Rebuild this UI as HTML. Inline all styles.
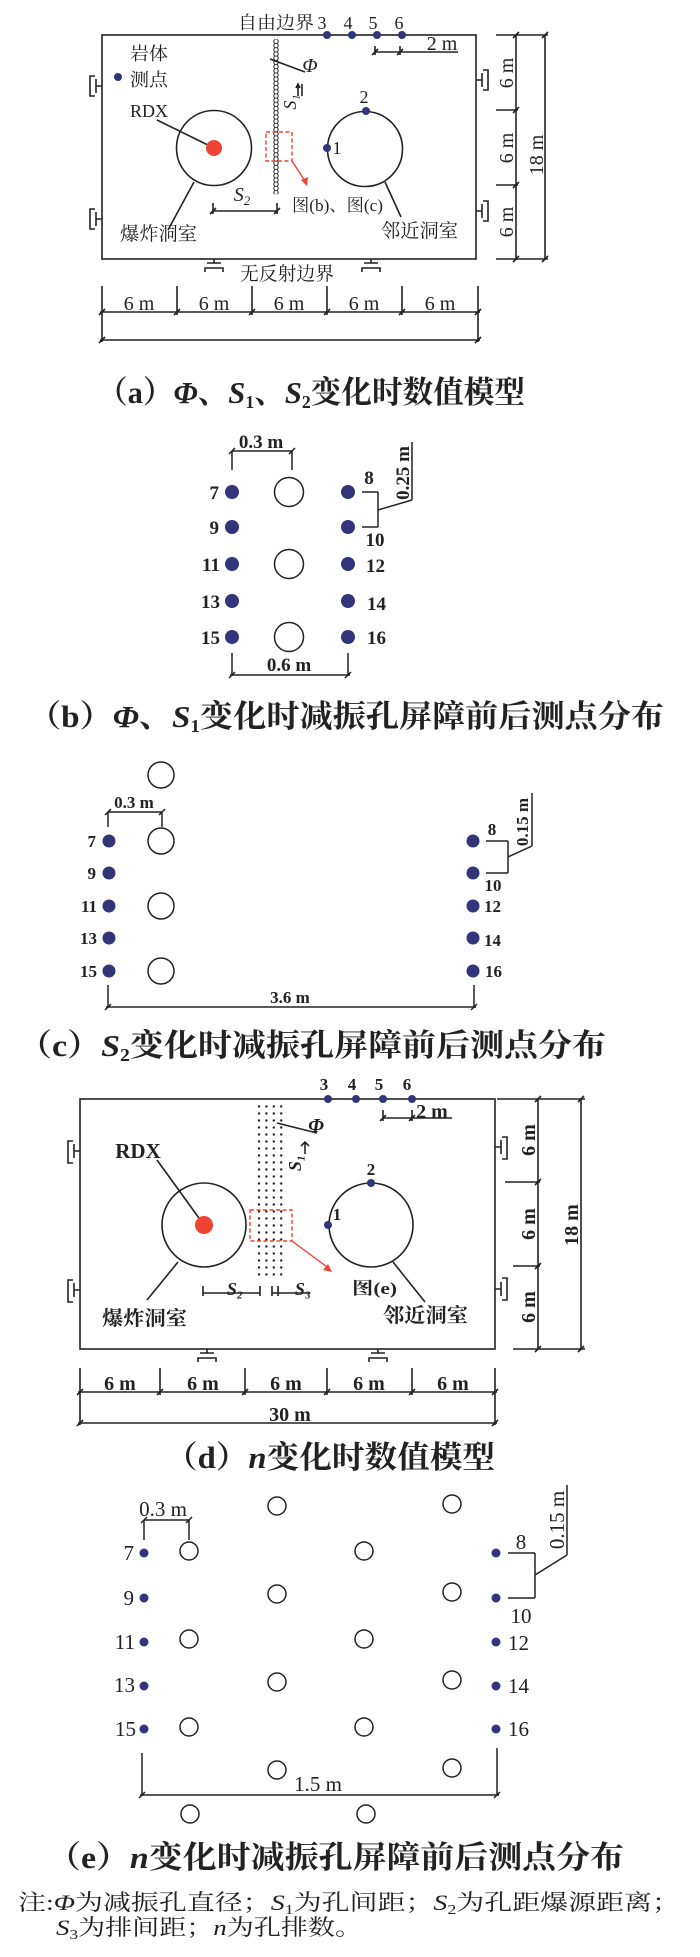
<!DOCTYPE html>
<html><head><meta charset="utf-8"><style>
html,body{margin:0;padding:0;background:#fff;}
svg{display:block;}
text{font-family:"Liberation Serif","Noto Serif CJK SC",serif;fill:#222;}
.cj{font-family:"Liberation Serif","Noto Serif CJK SC",serif;font-weight:bold;}
.b{font-weight:bold;}
</style></head><body>
<svg width="700" height="1957" viewBox="0 0 700 1957" xmlns="http://www.w3.org/2000/svg">
<defs>
<pattern id="chain" x="272" y="39.3" width="8" height="4.2" patternUnits="userSpaceOnUse">
<circle cx="4" cy="2.1" r="2.2" fill="none" stroke="#222" stroke-width="1"/>
</pattern>
<pattern id="dots" x="256" y="1103" width="7.4" height="7" patternUnits="userSpaceOnUse">
<circle cx="3" cy="3.5" r="1.2" fill="#222"/>
</pattern>
</defs>
<g stroke="#222" stroke-width="1.6" fill="none">
<rect x="102" y="35" width="374" height="224"/>
<path d="M102 86 H96 M96 79 V93 M95 76 H90 V96 H95"/>
<path d="M102 219 H96 M96 212 V226 M95 209 H90 V229 H95"/>
<path d="M476 80 H482 M482 73 V87 M483 70 H488 V90 H483"/>
<path d="M476 211 H482 M482 204 V218 M483 201 H488 V221 H483"/>
<path d="M214 259 V263 M207 263 H221 M205 272 V268 H223 V272"/>
<path d="M371 259 V263 M364 263 H378 M362 272 V268 H380 V272"/>
<path d="M496 35 H548 M496 110 H518 M496 185 H518 M496 259 H548 M516 35 V259 M545 35 V259"/>
<path d="M513 38 L519 32 M513 113 L519 107 M513 188 L519 182 M513 262 L519 256 M542 38 L548 32 M542 262 L548 256"/>
<path d="M102 286 V342 M177 286 V315 M252 286 V315 M327 286 V315 M402 286 V315 M478 286 V342 M100 312 H480 M100 340 H480"/>
<path d="M99 315 L105 309 M174 315 L180 309 M249 315 L255 309 M324 315 L330 309 M399 315 L405 309 M475 315 L481 309 M99 343 L105 337 M475 343 L481 337"/>
<path d="M375 52 H458 M375 46 V55 M400 46 V55 M372 55 L378 49 M397 55 L403 49"/>
<circle cx="214" cy="148" r="37.5"/>
<circle cx="365" cy="149" r="37.5"/>
<path d="M157 120 L214 148"/>
<path d="M194 182 L168 230 M385 182 L401 217"/>
<rect x="272" y="39.3" width="8" height="155" fill="url(#chain)" stroke="none"/>
<path d="M270 59 L305 72"/>
<path d="M298 84 V96 M302 84 V96 M296 88 L298 84 L300 88"/>
<path d="M213 211 H277 M213 203 V214 M277 203 V214 M210 214 L216 208 M274 214 L280 208"/>
</g>
<rect x="266" y="132" width="26" height="29" fill="none" stroke="#e43" stroke-width="1.4" stroke-dasharray="4,2.5"/>
<path d="M292 161 L305 181" stroke="#e43" stroke-width="1.4"/>
<path d="M301 180 L307 186 L308 177 Z" fill="#e43"/>
<circle cx="214" cy="148" r="8" fill="#e43"/>
<g fill="#33357a">
<circle cx="327" cy="35" r="4"/><circle cx="352" cy="35" r="4"/><circle cx="377" cy="35" r="4"/><circle cx="402" cy="35" r="4"/>
<circle cx="118" cy="77" r="4"/><circle cx="366" cy="111" r="4"/><circle cx="327" cy="148" r="4"/>
</g>
<g font-size="18">
<text x="238" y="29" textLength="76" lengthAdjust="spacingAndGlyphs">自由边界</text>
<text x="322" y="29" text-anchor="middle">3</text><text x="348" y="29" text-anchor="middle">4</text><text x="373" y="29" text-anchor="middle">5</text><text x="399" y="29" text-anchor="middle">6</text>
<text x="442" y="50" font-size="20" text-anchor="middle">2 m</text>
<text x="130" y="60" textLength="38" lengthAdjust="spacingAndGlyphs">岩体</text>
<text x="130" y="86" textLength="38" lengthAdjust="spacingAndGlyphs">测点</text>
<text x="130" y="117" textLength="38" lengthAdjust="spacingAndGlyphs">RDX</text>
<text x="364" y="103" text-anchor="middle">2</text>
<text x="337" y="154" text-anchor="middle">1</text>
<text x="310" y="72" font-style="italic" font-size="20" text-anchor="middle">Φ</text>
<text transform="translate(296,102) rotate(-90)" font-style="italic" font-size="18" text-anchor="middle">S₁</text>
<text x="242" y="201" font-style="italic" font-size="20" text-anchor="middle">S<tspan font-size="13" dy="4">2</tspan></text>
<text x="292" y="211" textLength="91" lengthAdjust="spacingAndGlyphs" font-size="17">图(b)、图(c)</text>
<text x="120" y="240" textLength="77" lengthAdjust="spacingAndGlyphs" font-size="19">爆炸洞室</text>
<text x="381" y="237" textLength="77" lengthAdjust="spacingAndGlyphs" font-size="19">邻近洞室</text>
<text x="240" y="280" textLength="94" lengthAdjust="spacingAndGlyphs" font-size="19">无反射边界</text>
<g font-size="20" text-anchor="middle">
<text x="139" y="310">6 m</text><text x="214" y="310">6 m</text><text x="289" y="310">6 m</text><text x="364" y="310">6 m</text><text x="440" y="310">6 m</text>
<text transform="translate(513,73) rotate(-90)">6 m</text>
<text transform="translate(513,148) rotate(-90)">6 m</text>
<text transform="translate(513,222) rotate(-90)">6 m</text>
<text transform="translate(543,155) rotate(-90)">18 m</text>
</g>
</g>
<text class="cj" x="97" y="403" font-size="31" textLength="428" lengthAdjust="spacingAndGlyphs">（a）<tspan font-style="italic">Φ</tspan>、<tspan font-style="italic">S</tspan><tspan font-size="18" dy="5">1</tspan><tspan dy="-5">、</tspan><tspan font-style="italic">S</tspan><tspan font-size="18" dy="5">2</tspan><tspan dy="-5">变化时数值模型</tspan></text>

<g stroke="#222" stroke-width="1.5" fill="none">
<path d="M232 451 H292 M232 451 V470 M292 451 V470 M229 454 L235 448 M289 454 L295 448"/>
<circle cx="289" cy="492" r="14.5"/><circle cx="289" cy="564" r="14.5"/><circle cx="289" cy="637" r="14.5"/>
<path d="M362 492 H378 M362 527 H378 M378 492 V527 M378 510 L412 500 M412 442 V500"/>
<path d="M232 653 V676 M348 653 V676 M230 675 H350 M229 678 L235 672 M345 678 L351 672"/>
</g>
<g fill="#33357a">
<circle cx="232" cy="492" r="7"/><circle cx="232" cy="527" r="7"/><circle cx="232" cy="564" r="7"/><circle cx="232" cy="601" r="7"/><circle cx="232" cy="637" r="7"/>
<circle cx="348" cy="492" r="7"/><circle cx="348" cy="527" r="7"/><circle cx="348" cy="564" r="7"/><circle cx="348" cy="601" r="7"/><circle cx="348" cy="637" r="7"/>
</g>
<g font-size="19" class="b">
<text x="261" y="448" text-anchor="middle">0.3 m</text>
<g text-anchor="end"><text x="219" y="499">7</text><text x="219" y="534">9</text><text x="220" y="571">11</text><text x="220" y="608">13</text><text x="220" y="644">15</text></g>
<text x="369" y="484" text-anchor="middle">8</text>
<text x="375" y="546" text-anchor="middle">10</text>
<text x="366" y="572">12</text><text x="367" y="610">14</text><text x="367" y="644">16</text>
<text x="289" y="671" text-anchor="middle">0.6 m</text>
<text transform="translate(409,473) rotate(-90)" text-anchor="middle">0.25 m</text>
</g>
<text class="cj" x="28" y="727" font-size="31" textLength="636" lengthAdjust="spacingAndGlyphs">（b）<tspan font-style="italic">Φ</tspan>、<tspan font-style="italic">S</tspan><tspan font-size="18" dy="5">1</tspan><tspan dy="-5">变化时减振孔屏障前后测点分布</tspan></text>

<g stroke="#222" stroke-width="1.5" fill="none">
<circle cx="161" cy="775" r="13"/><circle cx="161" cy="841" r="13"/><circle cx="161" cy="906" r="13"/><circle cx="161" cy="971" r="13"/>
<path d="M108 812 H162 M108 812 V827 M162 812 V827 M105 815 L111 809 M159 815 L165 809"/>
<path d="M486 841 H508 M486 873 H508 M508 841 V873 M508 857 L532 846 M532 846 V793"/>
<path d="M108 985 V1008 M474 985 V1008 M106 1007 H476 M105 1010 L111 1004 M471 1010 L477 1004"/>
</g>
<g fill="#33357a">
<circle cx="109" cy="841" r="6.5"/><circle cx="109" cy="873" r="6.5"/><circle cx="109" cy="906" r="6.5"/><circle cx="109" cy="938" r="6.5"/><circle cx="109" cy="971" r="6.5"/>
<circle cx="473" cy="841" r="6.5"/><circle cx="473" cy="873" r="6.5"/><circle cx="473" cy="906" r="6.5"/><circle cx="473" cy="938" r="6.5"/><circle cx="473" cy="971" r="6.5"/>
</g>
<g font-size="17" class="b">
<text x="134" y="808" text-anchor="middle">0.3 m</text>
<g text-anchor="end"><text x="96" y="847">7</text><text x="96" y="879">9</text><text x="97" y="912">11</text><text x="97" y="944">13</text><text x="97" y="977">15</text></g>
<text x="492" y="835" text-anchor="middle">8</text>
<text x="493" y="891" text-anchor="middle">10</text>
<text x="484" y="912">12</text><text x="484" y="946">14</text><text x="485" y="977">16</text>
<text x="290" y="1003" text-anchor="middle">3.6 m</text>
<text transform="translate(528,822) rotate(-90)" text-anchor="middle">0.15 m</text>
</g>
<text class="cj" x="18" y="1056" font-size="31" textLength="588" lengthAdjust="spacingAndGlyphs">（c）<tspan font-style="italic">S</tspan><tspan font-size="18" dy="5">2</tspan><tspan dy="-5">变化时减振孔屏障前后测点分布</tspan></text>

<g stroke="#222" stroke-width="1.6" fill="none">
<rect x="80" y="1099" width="415" height="250"/>
<path d="M80 1151 H74 M74 1144 V1158 M73 1141 H68 V1163 H73"/>
<path d="M80 1290 H74 M74 1283 V1297 M73 1280 H68 V1302 H73"/>
<path d="M495 1147 H501 M501 1140 V1154 M502 1137 H507 V1159 H502"/>
<path d="M495 1289 H501 M501 1282 V1296 M502 1278 H507 V1300 H502"/>
<path d="M207 1349 V1353 M200 1353 H214 M198 1362 V1358 H216 V1362"/>
<path d="M378 1349 V1353 M371 1353 H385 M369 1362 V1358 H387 V1362"/>
<path d="M497 1099 H585 M505 1182 H540 M513 1266 H540 M513 1349 H585 M538 1099 V1349 M581 1099 V1349"/>
<path d="M535 1102 L541 1096 M535 1185 L541 1179 M535 1269 L541 1263 M535 1352 L541 1346 M578 1102 L584 1096 M578 1352 L584 1346"/>
<path d="M80 1368 V1425 M160 1368 V1395 M245 1368 V1395 M327 1368 V1395 M412 1368 V1395 M495 1368 V1425 M78 1392 H497 M78 1423 H497"/>
<path d="M77 1395 L83 1389 M157 1395 L163 1389 M242 1395 L248 1389 M324 1395 L330 1389 M409 1395 L415 1389 M492 1395 L498 1389 M77 1426 L83 1420 M492 1426 L498 1420"/>
<path d="M383 1118 H452 M383 1110 V1121 M412 1110 V1121 M380 1121 L386 1115 M409 1121 L415 1115"/>
<circle cx="204" cy="1225" r="42"/>
<circle cx="371" cy="1225" r="42"/>
<path d="M157 1160 L204 1225 M178 1262 L147 1300 M393 1262 L425 1302"/>
<path d="M277 1123 L317 1133"/>
<path d="M305 1142 V1154 M301 1146 L305 1142 L309 1146"/>
<path d="M203 1293 H260 M203 1286 V1296 M260 1286 V1296 M272 1286 V1296 M278 1286 V1296 M272 1293 H310"/>
</g>
<rect x="256" y="1103" width="30" height="175" fill="url(#dots)"/>
<rect x="250" y="1210" width="42" height="31" fill="none" stroke="#e43" stroke-width="1.4" stroke-dasharray="4,2.5"/>
<path d="M292 1241 L327 1267" stroke="#e43" stroke-width="1.4"/>
<path d="M323 1270 L332 1272 L328 1264 Z" fill="#e43"/>
<circle cx="204" cy="1225" r="9" fill="#e43"/>
<g fill="#33357a">
<circle cx="328" cy="1099" r="4"/><circle cx="356" cy="1099" r="4"/><circle cx="383" cy="1099" r="4"/><circle cx="412" cy="1099" r="4"/>
<circle cx="371" cy="1183" r="4"/><circle cx="328" cy="1225" r="4"/>
</g>
<g font-size="17" class="b">
<text x="324" y="1090" text-anchor="middle">3</text><text x="352" y="1090" text-anchor="middle">4</text><text x="379" y="1090" text-anchor="middle">5</text><text x="407" y="1090" text-anchor="middle">6</text>
<text x="432" y="1118" font-size="20" text-anchor="middle">2 m</text>
<text x="138" y="1158" font-size="21" text-anchor="middle">RDX</text>
<text x="371" y="1175" text-anchor="middle">2</text>
<text x="337" y="1220" text-anchor="middle">1</text>
<text x="316" y="1132" font-style="italic" font-size="20" text-anchor="middle">Φ</text>
<text transform="translate(301,1163) rotate(-90)" font-style="italic" font-size="18" text-anchor="middle">S₁</text>
<text x="235" y="1295" font-style="italic" font-size="18" text-anchor="middle">S₂</text>
<text x="303" y="1295" font-style="italic" font-size="18" text-anchor="middle">S₃</text>
<text x="352" y="1294" textLength="45" lengthAdjust="spacingAndGlyphs">图(e)</text>
<text x="102" y="1325" textLength="85" lengthAdjust="spacingAndGlyphs" font-size="20">爆炸洞室</text>
<text x="383" y="1322" textLength="85" lengthAdjust="spacingAndGlyphs" font-size="20">邻近洞室</text>
<g font-size="20" text-anchor="middle">
<text x="120" y="1390">6 m</text><text x="203" y="1390">6 m</text><text x="286" y="1390">6 m</text><text x="369" y="1390">6 m</text><text x="453" y="1390">6 m</text>
<text x="290" y="1421">30 m</text>
<text transform="translate(535,1140) rotate(-90)">6 m</text>
<text transform="translate(535,1224) rotate(-90)">6 m</text>
<text transform="translate(535,1307) rotate(-90)">6 m</text>
<text transform="translate(578,1225) rotate(-90)">18 m</text>
</g>
</g>
<text class="cj" x="165" y="1468" font-size="31" textLength="330" lengthAdjust="spacingAndGlyphs">（d）<tspan font-style="italic">n</tspan>变化时数值模型</text>

<g stroke="#222" stroke-width="1.5" fill="none">
<circle cx="189" cy="1551" r="9"/><circle cx="189" cy="1639" r="9"/><circle cx="189" cy="1727" r="9"/><circle cx="190" cy="1814" r="9"/>
<circle cx="277" cy="1506" r="9"/><circle cx="277" cy="1594" r="9"/><circle cx="277" cy="1682" r="9"/><circle cx="277" cy="1770" r="9"/>
<circle cx="364" cy="1551" r="9"/><circle cx="364" cy="1639" r="9"/><circle cx="364" cy="1727" r="9"/><circle cx="366" cy="1814" r="9"/>
<circle cx="452" cy="1504" r="9"/><circle cx="452" cy="1592" r="9"/><circle cx="452" cy="1680" r="9"/><circle cx="452" cy="1768" r="9"/>
<path d="M144 1520 H189 M144 1520 V1540 M189 1520 V1540 M141 1523 L147 1517 M186 1523 L192 1517"/>
<path d="M508 1553 H535 M508 1598 H535 M535 1553 V1598 M535 1575 L567 1555 M567 1555 V1485"/>
<path d="M142 1753 V1796 M497 1748 V1796 M140 1795 H499 M139 1798 L145 1792 M494 1798 L500 1792"/>
</g>
<g fill="#33357a">
<circle cx="144" cy="1553" r="4.5"/><circle cx="144" cy="1598" r="4.5"/><circle cx="144" cy="1642" r="4.5"/><circle cx="144" cy="1686" r="4.5"/><circle cx="144" cy="1729" r="4.5"/>
<circle cx="496" cy="1553" r="4.5"/><circle cx="496" cy="1598" r="4.5"/><circle cx="496" cy="1642" r="4.5"/><circle cx="496" cy="1686" r="4.5"/><circle cx="496" cy="1729" r="4.5"/>
</g>
<g font-size="21">
<text x="163" y="1516" text-anchor="middle">0.3 m</text>
<g text-anchor="end"><text x="134" y="1560">7</text><text x="134" y="1605">9</text><text x="135" y="1649">11</text><text x="135" y="1692">13</text><text x="136" y="1736">15</text></g>
<text x="521" y="1549" text-anchor="middle">8</text>
<text x="521" y="1623" text-anchor="middle">10</text>
<text x="508" y="1650">12</text><text x="508" y="1693">14</text><text x="508" y="1736">16</text>
<text x="318" y="1791" text-anchor="middle">1.5 m</text>
<text transform="translate(564,1520) rotate(-90)" text-anchor="middle">0.15 m</text>
</g>
<text class="cj" x="47" y="1868" font-size="31" textLength="577" lengthAdjust="spacingAndGlyphs">（e）<tspan font-style="italic">n</tspan>变化时减振孔屏障前后测点分布</text>
<text x="18" y="1910" font-size="22" textLength="662" lengthAdjust="spacingAndGlyphs">注:<tspan font-style="italic">Φ</tspan>为减振孔直径；<tspan font-style="italic">S</tspan><tspan font-size="14" dy="4">1</tspan><tspan dy="-4">为孔间距；</tspan><tspan font-style="italic">S</tspan><tspan font-size="14" dy="4">2</tspan><tspan dy="-4">为孔距爆源距离；</tspan></text>
<text x="56" y="1935" font-size="22" textLength="306" lengthAdjust="spacingAndGlyphs"><tspan font-style="italic">S</tspan><tspan font-size="14" dy="4">3</tspan><tspan dy="-4">为排间距；</tspan><tspan font-style="italic">n</tspan>为孔排数。</text>
</svg>
</body></html>
